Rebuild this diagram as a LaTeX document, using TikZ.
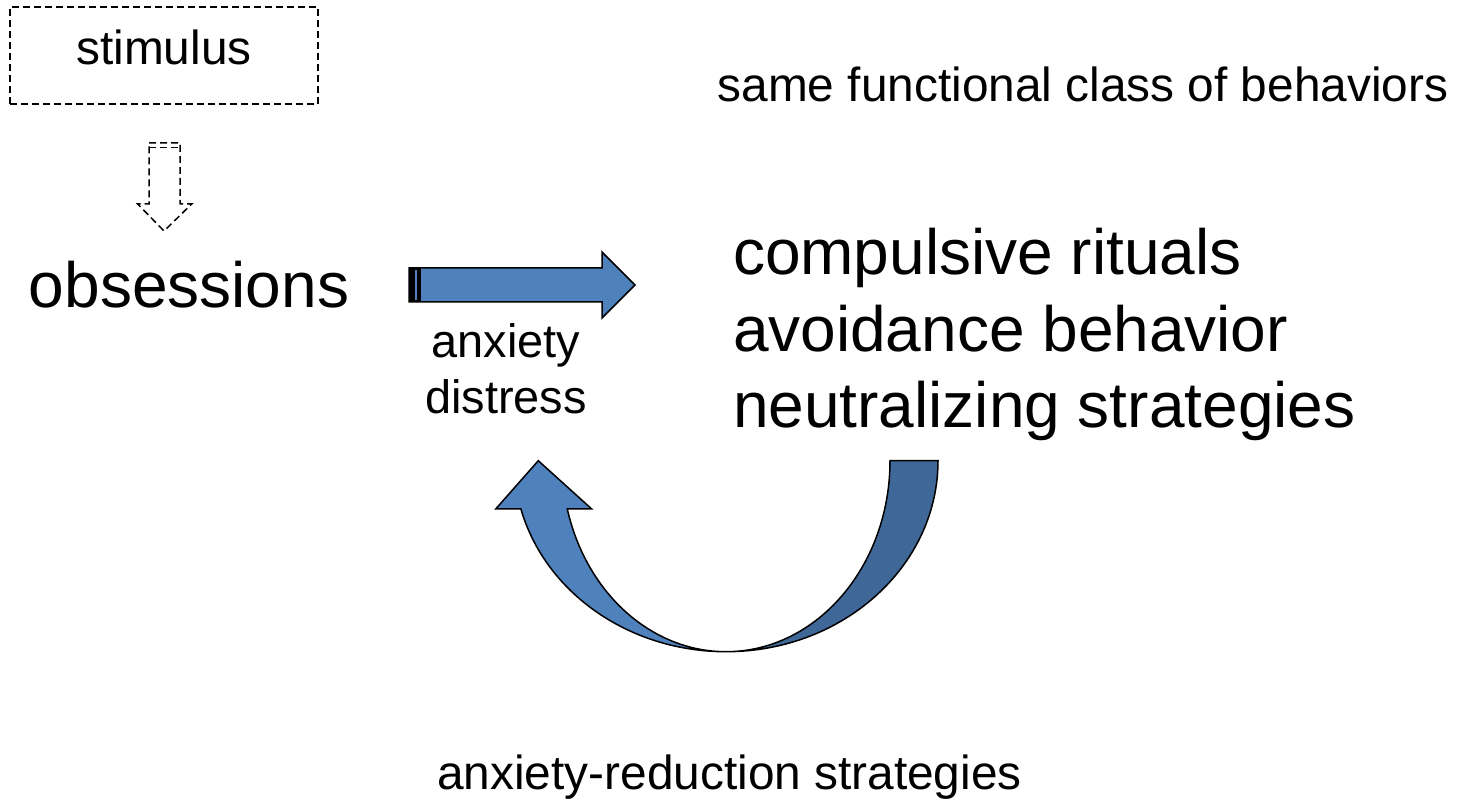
\documentclass[tikz,border=0pt]{standalone}
\usepackage{fontspec}
\setmainfont{Liberation Sans}
\begin{document}
\begin{tikzpicture}[x=1pt,y=1pt,
  lbl/.style={inner sep=0pt, outer sep=0pt, text=black},
  fsmall/.style={font=\fontsize{47.8}{57}\selectfont},
  fbig/.style={font=\fontsize{64}{76}\selectfont},
  dashline/.style={draw=black, line width=1.5pt, dash pattern=on 7pt off 4pt},
  blockarrow/.style={draw=black, line width=1.5pt, line join=miter},
]
\definecolor{arrowblue}{RGB}{79,129,189}
\definecolor{arrowdark}{RGB}{63,103,151}
\useasboundingbox (0,0) rectangle (1460,806);

% stimulus box and dashed down arrow
\draw[dashline] (10,702) rectangle (318,799);
\node[lbl, fsmall, anchor=base] (stim) at (164,741) {stimulus};
\draw[dashline, line join=miter] (149,663) -- (180,663) -- (180,602) -- (191.7,602)
  -- (164,575) -- (137.7,602) -- (149,602) -- cycle;
\draw[dashline, line width=1pt] (149,658.5) -- (180,658.5);

% labels
\node[lbl, fsmall, anchor=base] (same) at (1083,704) {same functional class of behaviors};
\node[lbl, fbig, anchor=base] (obs) at (189,498) {obsessions};
\node[lbl, font=\fontsize{46.9}{56}\selectfont, anchor=base] (anx) at (506,448) {anxiety};
\node[lbl, font=\fontsize{46.9}{56}\selectfont, anchor=base] (dis) at (506,392) {distress};
\node[lbl, fbig, anchor=base west] (comp) at (733,531) {compulsive rituals};
\node[lbl, fbig, anchor=base west] (avoid) at (733,454) {avoidance behavior};
\node[lbl, fbig, anchor=base west] (neut) at (733,378) {neutralizing strategies};
\node[lbl, fsmall, anchor=base] (red) at (729.5,16) {anxiety-reduction strategies};

% straight block arrow
\draw[blockarrow, fill=arrowblue] (409,538) -- (602,538) -- (602,554) -- (635,521)
  -- (602,488) -- (602,504) -- (409,504) -- cycle;
\fill[black] (409,504) rectangle (421,538);
\fill[arrowblue] (414.7,506) rectangle (416.7,536);

% curved return arrow: darker tail on the right
\draw[blockarrow, fill=arrowdark] (938,345.3) -- (890,345.3)
  arc[start angle=0, end angle=-90, x radius=164pt, y radius=191pt]
  arc[start angle=-90, end angle=0, x radius=212pt, y radius=191pt] -- cycle;
% lighter left half with the head
\draw[blockarrow, fill=arrowblue] (726,154.3)
  arc[start angle=-90, end angle=-165.35, x radius=212pt, y radius=191pt]
  -- (495.7,297) -- (538.3,345.3) -- (591.7,297) -- (567.3,297)
  arc[start angle=-165.35, end angle=-90, x radius=164pt, y radius=191pt] -- cycle;
\end{tikzpicture}
\end{document}
